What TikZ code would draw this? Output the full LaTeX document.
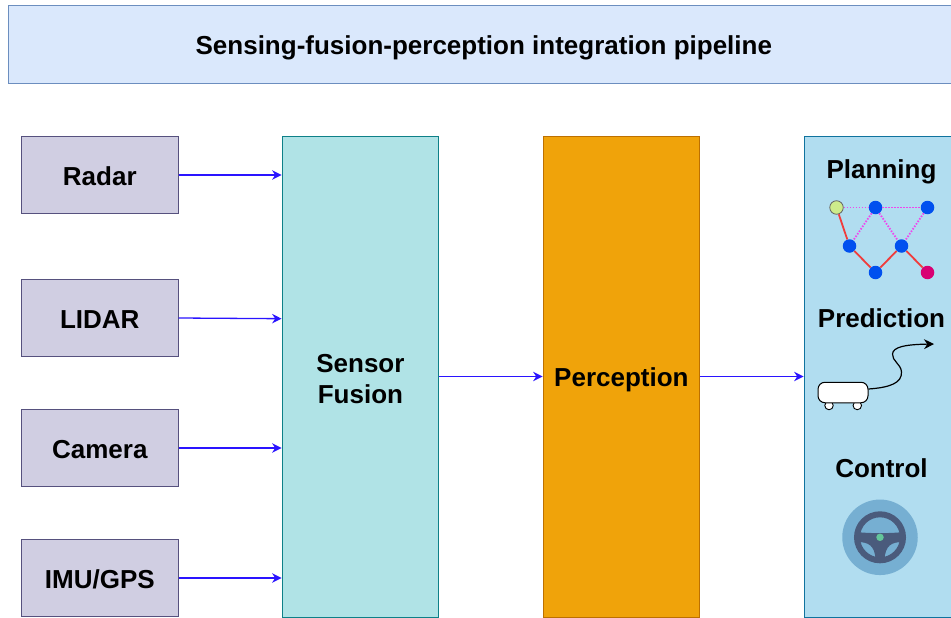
\documentclass[tikz,border=0pt]{standalone}
\usepackage{fontspec}
\setmainfont{Liberation Sans}
\usetikzlibrary{arrows.meta,positioning}
\definecolor{titlefill}{HTML}{DAE8FC}
\definecolor{titleline}{HTML}{6C8EBF}
\definecolor{sensorfill}{HTML}{D0CEE2}
\definecolor{sensorline}{HTML}{56517E}
\definecolor{fusionfill}{HTML}{B0E3E6}
\definecolor{fusionline}{HTML}{0E8088}
\definecolor{percfill}{HTML}{F0A30A}
\definecolor{percline}{HTML}{BD7000}
\definecolor{panelfill}{HTML}{B1DDF0}
\definecolor{panelline}{HTML}{10739E}
\definecolor{gnodeblue}{HTML}{0050EF}
\definecolor{gnodegoal}{HTML}{D80073}
\definecolor{gnodestart}{HTML}{CDEB8B}
\definecolor{wheeldisc}{HTML}{76AFD2}
\definecolor{wheeldark}{HTML}{4A5B7C}
\definecolor{wheelhub}{HTML}{63C69A}
\definecolor{flowblue}{HTML}{2A14FF}
\begin{document}
\begin{tikzpicture}[x=1pt,y=-1pt,>={Stealth[length=9.5pt,width=9.5pt]},node distance=143pt,on grid,font=\bfseries]
\tikzstyle{sensor} = [rectangle,draw=sensorline,fill=sensorfill,line width=1pt,minimum width=156.6pt,minimum height=77.6pt,text height=20pt,text depth=0pt,font=\fontsize{26}{31}\selectfont\bfseries]
\tikzstyle{tall} = [rectangle,line width=1pt,minimum width=156.6pt,minimum height=481pt,align=center,font=\fontsize{26}{31}\selectfont\bfseries]
\tikzstyle{lbl} = [text height=20pt,text depth=0pt,font=\fontsize{26}{31}\selectfont\bfseries]
\tikzstyle{gn} = [circle,fill=gnodeblue,inner sep=0pt,minimum size=13.5pt]
\tikzstyle{flow} = [->,draw=flowblue,line width=1.3pt]
\tikzstyle{best} = [draw={rgb,255:red,240;green,60;blue,60},line width=1.8pt]
\tikzstyle{alt} = [draw={rgb,255:red,238;green,70;blue,238},line width=1.8pt,dash pattern=on 1.5pt off 1.5pt]
\tikzstyle{wheel} = [circle,draw=black,fill=white,line width=0.9pt,inner sep=0pt,minimum size=8.5pt]
    \clip (0,0) rectangle (951,618);
    \node[rectangle,draw=titleline,fill=titlefill,line width=1pt,minimum width=962pt,minimum height=78pt,text height=20pt,text depth=0pt] (title) at (489.3,44.8) {\fontsize{26}{31}\selectfont\hspace{-11pt}Sensing-fusion-perception integration pipeline};

    \node[sensor] (radar) at (99.8,175) {Radar};
    \node[sensor] (lidar) [below =of radar] {LIDAR};
    \node[sensor] (camera) [below =130pt of lidar] {Camera};
    \node[sensor] (imu) [below =130pt of camera] {IMU/GPS};

    \node[tall,draw=fusionline,fill=fusionfill] (fusion) at (360.4,376.5) {\rule{0pt}{23pt}Sensor\\Fusion};
    \node[tall,draw=percline,fill=percfill,text height=20pt,text depth=0pt] (perception) [right =261pt of fusion] {Perception};
    \node[tall,draw=panelline,fill=panelfill] (panel) [right =261pt of perception] {};

    \draw[flow] (radar) -- (radar -| fusion.west);
    \draw[flow] (lidar.east) -- ([yshift=-0.7pt]lidar -| fusion.west);
    \draw[flow] (camera) -- (camera -| fusion.west);
    \draw[flow] (imu) -- (imu -| fusion.west);
    \draw[flow] (fusion) -- (perception);
    \draw[flow] (perception) -- (panel);

    \node[lbl] (planning) at (881.5,168) {Planning};
    \node[gn,fill=gnodestart,draw=black!60,line width=0.8pt] (g1) at (836.5,207.5) {};
    \node[gn] (g2) at (875.5,207.5) {};
    \node[gn] (g3) at (927.5,207.5) {};
    \node[gn] (g4) at (849.5,246) {};
    \node[gn] (g5) at (901.5,246) {};
    \node[gn] (g6) at (875.5,272.5) {};
    \node[gn,fill=gnodegoal] (g7) at (927.5,272.5) {};
    \draw[alt] (g1) -- (g2);
    \draw[alt] (g2) -- (g3);
    \draw[alt] (g2) -- (g4);
    \draw[alt] (g2) -- (g5);
    \draw[alt] (g3) -- (g5);
    \draw[best] (g1) -- (g4);
    \draw[best] (g4) -- (g6);
    \draw[best] (g6) -- (g5);
    \draw[best] (g5) -- (g7);

    \node[lbl] (prediction) at (881.5,317.5) {Prediction};
    \node[wheel] (w1) at (829,405.5) {};
    \node[wheel] (w2) at (857.3,405.5) {};
    \node[rectangle,rounded corners=7pt,draw=black,fill=white,line width=1pt,minimum width=50pt,minimum height=20.5pt,inner sep=0pt] (car) at (843,392.5) {};
    \coordinate (goal) at (934,344);
    \draw[->,black,line width=1.2pt,>={Stealth[length=10pt,width=10pt]}] (car.east |- 0,389) .. controls (890,387.5) and (902,383) .. (901.5,372) .. controls (901,364) and (892,361) .. (892.5,354) .. controls (893,347) and (905,344.5) .. (goal);

    \node[lbl] (control) at (881.5,467.5) {Control};
    \node[circle,fill=wheeldisc,minimum size=75.5pt,inner sep=0pt] (disc) at (880,537.3) {};
    \node[circle,draw=wheeldark,line width=6pt,minimum size=46pt,inner sep=0pt] (rim) at (880,537.3) {};
    \fill[wheeldark] (857,532) .. controls (868,533.5) and (892,533.5) .. (903,532) -- (903,542) .. controls (892,542) and (885,545) .. (884.5,560) -- (875.5,560) .. controls (875,545) and (868,542) .. (857,542) -- cycle;
    \node[circle,fill=wheelhub,minimum size=7.5pt,inner sep=0pt] (hub) at (880,537.3) {};
\end{tikzpicture}
\end{document}
